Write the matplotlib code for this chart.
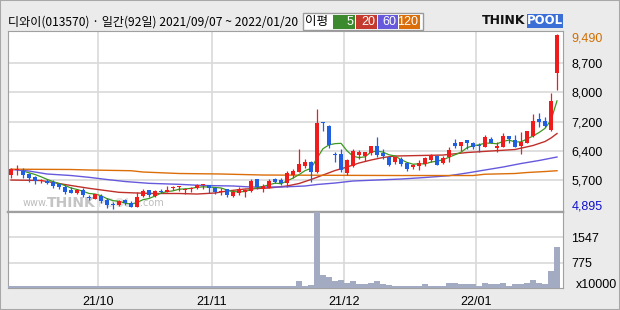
import matplotlib
matplotlib.use('Agg')
import matplotlib.pyplot as plt
from matplotlib.patches import Rectangle
import pandas as pd

plt.rcParams['font.family'] = ['Noto Sans CJK KR', 'DejaVu Sans']

# 일봉 데이터
opens = [5797, 5920, 5893, 5822, 5735, 5630, 5640, 5612, 5543, 5480,
         5393, 5307, 5386, 5200, 5157, 5245, 5140, 5020, 5007, 5131,
         5060, 4955, 5236, 5393, 5245, 5370, 5350, 5440, 5460, 5400,
         5410, 5446, 5515, 5515, 5437, 5345, 5420, 5245, 5307, 5350,
         5367, 5683, 5420, 5437, 5680, 5656, 5586, 5787, 5875, 6024,
         6137, 5875, 7190, 7074, 6320, 6340, 5830, 6020, 6313, 6287,
         6372, 6550, 6372, 6270, 6137, 6208, 6094, 5990, 6024, 6068,
         6181, 6287, 6110, 6250, 6620, 6558, 6706, 6620, 6567, 6532,
         6733, 6505, 6532, 6812, 6706, 6558, 6637, 6812, 7258, 7206,
         6969, 8458]
highs = [5963, 6040, 5971, 5848, 5770, 5680, 5670, 5656, 5590, 5520,
         5460, 5420, 5440, 5262, 5300, 5290, 5175, 5090, 5130, 5160,
         5100, 5350, 5410, 5400, 5400, 5420, 5510, 5510, 5500, 5440,
         5460, 5550, 5560, 5520, 5480, 5440, 5420, 5370, 5470, 5420,
         5680, 5683, 5550, 5683, 5720, 5700, 5893, 5950, 6470, 6200,
         6160, 7520, 7190, 7100, 6400, 6460, 6200, 6470, 6450, 6400,
         6550, 6793, 6460, 6290, 6270, 6260, 6120, 6080, 6181, 6260,
         6340, 6313, 6287, 6515, 6725, 6645, 6706, 6645, 6620, 6830,
         6777, 6660, 6883, 6812, 6830, 6925, 6943, 7390, 7408, 7300,
         7950, 9490]
lows = [5709, 5800, 5709, 5612, 5560, 5590, 5560, 5454, 5430, 5280,
        5320, 5290, 5220, 5131, 5150, 5045, 4930, 4895, 4980, 4990,
        4940, 4955, 5210, 5220, 5210, 5310, 5350, 5400, 5380, 5300,
        5330, 5410, 5420, 5320, 5300, 5270, 5220, 5220, 5250, 5200,
        5330, 5420, 5340, 5437, 5570, 5530, 5480, 5710, 5875, 5980,
        5612, 5830, 6950, 6490, 6137, 5875, 5780, 5990, 6210, 6160,
        6313, 6270, 6200, 6030, 6076, 6020, 5893, 5950, 5919, 6020,
        6137, 6050, 6068, 6137, 6490, 6425, 6480, 6460, 6400, 6532,
        6620, 6380, 6532, 6620, 6532, 6340, 6620, 6795, 7055, 7040,
        6943, 8019]
closes = [5937, 5930, 5800, 5717, 5622, 5640, 5590, 5500, 5472, 5350,
          5323, 5393, 5262, 5185, 5280, 5105, 5000, 4999, 5105, 5045,
          4955, 5218, 5375, 5262, 5367, 5350, 5402, 5480, 5472, 5410,
          5420, 5533, 5550, 5446, 5350, 5360, 5262, 5333, 5420, 5393,
          5640, 5480, 5507, 5630, 5612, 5570, 5832, 5893, 6076, 6137,
          5875, 7160, 7145, 6575, 6300, 5919, 6181, 6425, 6400, 6400,
          6550, 6305, 6287, 6050, 6250, 6068, 5937, 6050, 6110, 6226,
          6313, 6050, 6240, 6444, 6550, 6645, 6637, 6515, 6550, 6777,
          6637, 6558, 6820, 6733, 6532, 6645, 6943, 7206, 7187, 7083,
          7730, 9464]
# 거래량 (x10000)
volumes = [50, 50, 50, 50, 50, 50, 50, 50, 50, 50,
           50, 50, 50, 50, 50, 50, 50, 50, 50, 50,
           50, 50, 50, 50, 50, 50, 50, 50, 50, 50,
           50, 50, 50, 50, 50, 50, 50, 50, 50, 50,
           50, 50, 50, 50, 50, 50, 50, 50, 212, 60,
           90, 2320, 406, 345, 215, 233, 154, 203, 112, 112,
           142, 203, 112, 103, 73, 73, 73, 73, 73, 112,
           73, 73, 73, 142, 163, 112, 112, 112, 73, 142,
           112, 112, 163, 73, 112, 112, 142, 233, 142, 112,
           506, 1262]

# 이동평균선
ma20_idx = [0, 5, 8, 10, 13, 16, 18, 21, 24, 28, 31, 34, 36, 39, 43, 46, 48,
            50, 52, 54, 56, 58, 60, 62, 64, 68, 72, 76, 80, 84, 87, 89, 90, 91]
ma20_val = [5656, 5643, 5564, 5512, 5438, 5375, 5333, 5315, 5302, 5302, 5288,
            5315, 5367, 5420, 5446, 5499, 5564, 5669, 5787, 5905, 5997, 6102,
            6181, 6247, 6286, 6299, 6312, 6378, 6418, 6457, 6562, 6667, 6759, 6877]
ma60_idx = [0, 3, 6, 10, 13, 16, 19, 23, 28, 32, 37, 40, 45, 49, 51, 54, 57,
            61, 65, 69, 73, 76, 79, 82, 85, 88, 91]
ma60_val = [5932, 5892, 5814, 5774, 5727, 5669, 5617, 5569, 5543, 5512, 5499,
            5472, 5472, 5499, 5538, 5577, 5630, 5656, 5682, 5722, 5769, 5840,
            5919, 5997, 6089, 6168, 6260]
ma120_idx = [0, 10, 13, 20, 22, 28, 35, 42, 55, 65, 77, 79, 84, 86, 89, 91]
ma120_val = [5940, 5932, 5919, 5900, 5866, 5827, 5814, 5787, 5779, 5774, 5774,
             5808, 5827, 5853, 5879, 5900]

month_idx = [15, 34, 56, 78]
month_labels = ['21/10', '21/11', '21/12', '22/01']
price_labels = ['5,700', '6,400', '7,200', '8,000', '8,700']
price_min, price_max = 4895, 9490
vol_labels = ['775', '1547']
vol_max = 2320

W, H = 620, 310
RED = '#ee1c1c'
BLUE = '#1f5fe0'
GRID = '#d9d9d9'
FRAME = '#a0a0a0'


def fx(x):
    return x / W


def fy(y):
    return 1 - y / H


fig = plt.figure(figsize=(W / 100, H / 100), dpi=100, facecolor='#ebebeb')
ax = fig.add_axes([fx(8), fy(212), 555 / W, 181 / H])
axv = fig.add_axes([fx(8), fy(288), 555 / W, 76 / H])

# 가격 축
step = (price_max - price_min) / 6
px_unit = (price_max - price_min) / 175
ax.set_xlim(-0.5, 92)
ax.set_ylim(price_min - 3 * px_unit, price_max + 3 * px_unit)
ax.set_yticks([price_min + step * (k + 1) for k in range(5)])
ax.set_yticklabels(price_labels)
ax.yaxis.tick_right()
ax.set_xticks([m - 0.5 for m in month_idx])
ax.set_xticklabels([])
ax.tick_params(length=0, pad=6, labelsize=9)
for t in ax.get_yticklabels():
    t.set_fontfamily('Liberation Sans')
ax.grid(True, color=GRID, lw=1.2)
ax.set_axisbelow(True)
for s in ax.spines.values():
    s.set_color(FRAME)
ax.spines['bottom'].set_linewidth(1.6)

ax.annotate('9,490', xy=(1, price_max), xycoords=('axes fraction', 'data'),
            xytext=(6, -3), textcoords='offset points', va='center', ha='left',
            color='#d26e00', fontsize=9, fontfamily='Liberation Sans')
ax.annotate('4,895', xy=(1, price_min), xycoords=('axes fraction', 'data'),
            xytext=(6, 1.5), textcoords='offset points', va='center', ha='left',
            color='#1010d0', fontsize=9, fontfamily='Liberation Sans')

# 워터마크
ax.text(fx(23 - 8) * W / 555, 0.035, 'www.', transform=ax.transAxes, fontsize=7,
        color='#bdbdbd', fontfamily='DejaVu Sans', zorder=1)
ax.text((47 - 8) / 555, 0.025, 'THINK', transform=ax.transAxes, fontsize=10,
        color='#c4c4c4', fontweight='bold', fontfamily='DejaVu Sans', zorder=1)
ax.text((97 - 8) / 555, 0.025, 'POOL', transform=ax.transAxes, fontsize=8.5,
        color='#e2e2e2', fontweight='bold', fontfamily='DejaVu Sans', zorder=1)
ax.text((140 - 8) / 555, 0.035, '.com', transform=ax.transAxes, fontsize=7,
        color='#bdbdbd', fontfamily='DejaVu Sans', zorder=1)

# 이동평균선
ma5 = pd.Series(closes).rolling(5, min_periods=3).mean()
ax.plot(ma20_idx, ma20_val, color='#c0302a', lw=1.0, zorder=2)
ax.plot(ma60_idx, ma60_val, color='#6659dc', lw=1.0, zorder=2)
ax.plot(ma120_idx, ma120_val, color='#dc6e0a', lw=1.0, zorder=2)
ax.plot(range(len(closes)), ma5, color='#3c9a20', lw=0.9, zorder=2)

# 캔들
for i in range(len(closes)):
    o, h, l, c = opens[i], highs[i], lows[i], closes[i]
    col = RED if c >= o else BLUE
    ax.vlines(i, l, h, color=col, lw=0.9, zorder=3)
    body = max(abs(c - o), px_unit)
    ax.bar(i, body, bottom=min(o, c), width=0.8, color=col, lw=0, zorder=4)

# 거래량 축
vstep = vol_max / 3
axv.bar(range(len(volumes)), volumes, width=0.85, color='#a3abc3', lw=0, zorder=3)
axv.set_xlim(-0.5, 92)
axv.set_ylim(0, vol_max)
axv.set_yticks([vstep, vstep * 2])
axv.set_yticklabels(vol_labels)
axv.yaxis.tick_right()
axv.set_xticks([m - 0.5 for m in month_idx])
axv.set_xticklabels(month_labels)
axv.tick_params(length=0, pad=6, labelsize=9)
for t in axv.get_yticklabels() + axv.get_xticklabels():
    t.set_fontfamily('Liberation Sans')
axv.grid(True, color=GRID, lw=1.2)
axv.set_axisbelow(True)
for s in axv.spines.values():
    s.set_color(FRAME)
axv.spines['top'].set_linewidth(1.6)
axv.annotate('x10000', xy=(1, 0), xycoords='axes fraction', xytext=(9, 2),
             textcoords='offset points', va='center', ha='left', fontsize=9,
             fontfamily='Liberation Sans')

# 제목
fig.text(fx(8), fy(22), '디와이(013570) · 일간(92일) 2021/09/07 ~ 2022/01/20',
         fontsize=8.7, va='center', ha='left')

# 이평 범례
fig.patches.append(Rectangle((fx(303), fy(30)), 120 / W, 17 / H, transform=fig.transFigure,
                             facecolor='white', edgecolor='#9a9a9a', lw=1))
fig.text(fx(305), fy(22), '이평', fontsize=9, va='center', ha='left')
legend_boxes = [(333, 355, '5', '#3c8a2e'), (356, 377, '20', '#c43a2e'),
                (378, 398, '60', '#6659dc'), (399, 420, '120', '#dc6e0a')]
for x0, x1, lab, col in legend_boxes:
    fig.patches.append(Rectangle((fx(x0), fy(28.5)), (x1 - x0) / W, 13 / H,
                                 transform=fig.transFigure, facecolor=col, lw=0))
    fig.text(fx(x1 - 1.5), fy(22), lab, fontsize=9, color='white', va='center',
             ha='right', fontfamily='Liberation Sans')

# THINKPOOL 로고
fig.text(fx(482), fy(21), 'THINK', fontsize=9, fontweight='bold', va='center',
         ha='left', fontfamily='DejaVu Sans', color='#111111')
fig.patches.append(Rectangle((fx(527), fy(28)), 36 / W, 14 / H, transform=fig.transFigure,
                             facecolor='#3b6fd6', lw=0))
fig.text(fx(545), fy(21), 'POOL', fontsize=8.5, fontweight='bold', va='center',
         ha='center', fontfamily='DejaVu Sans', color='white')

# 바깥 테두리
fig.patches.append(Rectangle((0, 0), 1, 1, transform=fig.transFigure,
                             facecolor='none', edgecolor='#a8a8a8', lw=1.5))

fig.savefig('out.png', dpi=100, facecolor=fig.get_facecolor())
